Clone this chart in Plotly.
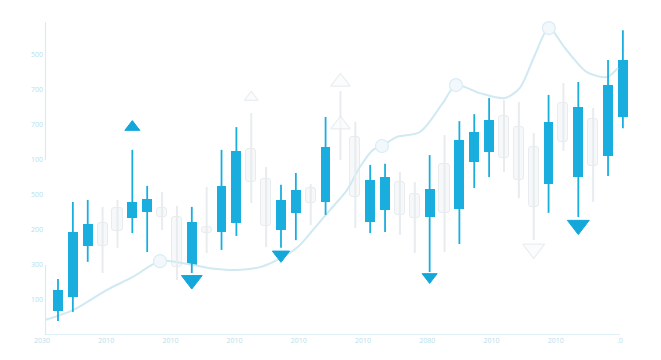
import plotly.graph_objects as go

# ---- data ----
kind = ['B','B','B','W','W','B','B','W','W','B','W','B','B','W','W','B','B','W','B','N',
        'W','B','B','W','W','B','W','B','B','B','W','W','W','B','W','B','W','B','B']
body_top = [129,294,317,320,363,380,389,363,337,323,309,426,526,531,446,386,414,420,537,None,
            566,443,451,437,403,417,489,557,580,614,626,594,537,609,663,651,617,714,786]
body_bot = [69,109,254,254,297,334,351,337,194,200,291,294,320,437,311,300,349,377,380,None,
            394,323,357,343,334,337,349,360,494,523,506,443,366,431,551,451,483,511,623]
high = [160,380,386,366,386,529,426,409,369,366,423,529,594,634,480,429,463,431,623,697,
        609,486,489,466,437,514,571,611,631,677,671,666,577,686,720,723,649,786,871]
low = [40,66,209,177,249,291,237,300,157,177,234,243,283,377,251,249,271,314,343,500,
       306,291,294,286,234,180,237,260,420,451,466,391,271,349,526,337,380,454,591]

blue_down_x = [9, 15, 25, 35]
blue_down_y = [157, 229, 166, 314]
blue_down_s = [18, 15, 13, 19]
blue_up_x = [5]
blue_up_y = [594]
blue_up_s = [13]
ghost_up_x = [13, 19, 19]
ghost_up_y = [679, 723, 601]
ghost_up_s = [12, 17, 17]
ghost_down_x = [32]
ghost_down_y = [246]
ghost_down_s = [19]

ma_x = [-0.87,1.01,3.30,5.04,6.86,9.08,10.22,12.04,13.59,14.73,16.07,17.15,18.29,19.44,20.31,
        21.19,21.79,22.80,24.35,25.89,26.77,28.38,30.06,31.07,32.08,33.02,34.10,35.58,36.93,37.67]
ma_y = [43,71,129,166,211,200,191,186,194,214,249,300,357,414,480,529,540,566,580,663,714,691,
        677,706,800,877,820,751,737,763]
node_x = [6.86, 21.79, 26.77, 33.02]
node_y = [211, 540, 714, 877]

y_tickvals = [100, 200, 300, 400, 500, 600, 700, 800]
y_ticktext = ['100', '300', '200', '500', '100', '700', '700', '500']
x_ticktext = ['2030', '2010', '2010', '2010', '2010', '2010', '2080', '2010', '2010', '.0']

BLUE = '#1aaedf'
ARROW = '#13a7da'
GHOST_FILL = '#f6f8f9'
GHOST_LINE = '#e8ecef'
LABEL = '#b8deec'
AXIS = '#d6ebf3'

fig = go.Figure()

# moving-average curve (behind)
fig.add_trace(go.Scatter(x=ma_x, y=ma_y, mode='lines',
                         line=dict(color='#d0e9f3', width=2, shape='spline', smoothing=0.8),
                         hoverinfo='skip', showlegend=False))
fig.add_trace(go.Scatter(x=node_x, y=node_y, mode='markers',
                         marker=dict(size=13, color='#f2f8fb', line=dict(color='#d9edf5', width=1.2)),
                         hoverinfo='skip', showlegend=False))

def wick_xy(k):
    xs, ys = [], []
    for i, t in enumerate(kind):
        if t == k:
            xs += [i, i, None]
            ys += [low[i], high[i], None]
    return xs, ys

# ghost candles
gx, gy = wick_xy('W')
nx, ny = wick_xy('N')
fig.add_trace(go.Scatter(x=gx + nx, y=gy + ny, mode='lines', line=dict(color=GHOST_LINE, width=2),
                         hoverinfo='skip', showlegend=False))
wi = [i for i, t in enumerate(kind) if t == 'W']
fig.add_trace(go.Bar(x=wi, y=[body_top[i] - body_bot[i] for i in wi], base=[body_bot[i] for i in wi],
                     width=0.68, marker=dict(color=GHOST_FILL, line=dict(color=GHOST_LINE, width=1),
                                             cornerradius=3),
                     hoverinfo='skip', showlegend=False))

# ghost arrows
fig.add_trace(go.Scatter(x=ghost_up_x, y=ghost_up_y, mode='markers',
                         marker=dict(symbol='triangle-up', size=ghost_up_s, color='#fafbfc',
                                     line=dict(color='#e2e8ec', width=1.2)),
                         hoverinfo='skip', showlegend=False))
fig.add_trace(go.Scatter(x=ghost_down_x, y=ghost_down_y, mode='markers',
                         marker=dict(symbol='triangle-down', size=ghost_down_s, color='#fafbfc',
                                     line=dict(color='#e2e8ec', width=1.2)),
                         hoverinfo='skip', showlegend=False))

# blue candles
bx, by = wick_xy('B')
fig.add_trace(go.Scatter(x=bx, y=by, mode='lines', line=dict(color=BLUE, width=1.8),
                         hoverinfo='skip', showlegend=False))
bi = [i for i, t in enumerate(kind) if t == 'B']
fig.add_trace(go.Bar(x=bi, y=[body_top[i] - body_bot[i] for i in bi], base=[body_bot[i] for i in bi],
                     width=0.66, marker=dict(color=BLUE, line=dict(width=0), cornerradius=1),
                     hoverinfo='skip', showlegend=False))

# blue arrows
fig.add_trace(go.Scatter(x=blue_down_x, y=blue_down_y, mode='markers',
                         marker=dict(symbol='triangle-down', size=blue_down_s, color=ARROW, opacity=1,
                                     line=dict(color=ARROW, width=1)),
                         hoverinfo='skip', showlegend=False))
fig.add_trace(go.Scatter(x=blue_up_x, y=blue_up_y, mode='markers',
                         marker=dict(symbol='triangle-up', size=blue_up_s, color=ARROW, opacity=1,
                                     line=dict(color=ARROW, width=1)),
                         hoverinfo='skip', showlegend=False))

n_xt = len(x_ticktext)
x_tickvals = [-1.08 + i * (37.8 + 1.08) / (n_xt - 1) for i in range(n_xt)]

fig.update_layout(
    width=661, height=360,
    margin=dict(l=38, r=21, t=20, b=25),
    paper_bgcolor='white', plot_bgcolor='white',
    barmode='overlay', bargap=0,
    showlegend=False,
    xaxis=dict(range=[-1.345, 39.15], showgrid=False, zeroline=False, showline=False,
               tickvals=x_tickvals, ticktext=x_ticktext, ticks='',
               tickfont=dict(family='Open Sans', size=7, color=LABEL)),
    yaxis=dict(range=[0, 900], showgrid=False, zeroline=False, showline=False,
               tickvals=y_tickvals, ticktext=y_ticktext, ticks='', ticklabelstandoff=-6,
               tickfont=dict(family='Open Sans', size=7, color=LABEL)),
    shapes=[
        dict(type='line', xref='x', yref='y', x0=-0.874, x1=37.8, y0=0, y1=0,
             line=dict(color=AXIS, width=1.5)),
        dict(type='line', xref='x', yref='y', x0=-0.84, x1=-0.84, y0=500, y1=894,
             line=dict(color=AXIS, width=1.2)),
        dict(type='line', xref='x', yref='y', x0=-0.84, x1=-0.84, y0=0, y1=200,
             line=dict(color=AXIS, width=1.2)),
    ],
)

fig.write_html('out.html')
